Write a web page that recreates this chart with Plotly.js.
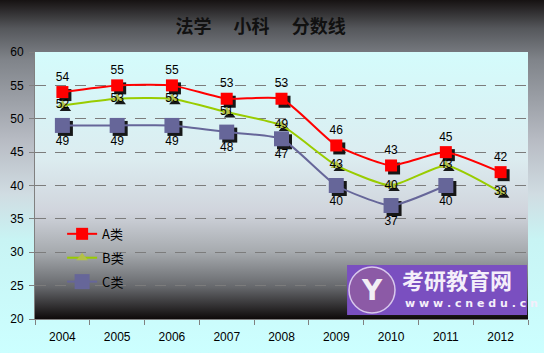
<!DOCTYPE html>
<html><head><meta charset="utf-8">
<script src="https://cdn.plot.ly/plotly-3.0.1.min.js"></script>
<style>html,body{margin:0;padding:0;}#chart{width:544px;height:353px;}</style>
</head><body><div id="chart"></div>
<script>
const years = ['2004','2005','2006','2007','2008','2009','2010','2011','2012'];
const seriesA = [54,55,55,53,53,46,43,45,42];
const seriesB = [52,53,53,51,49,43,40,43,39];
const seriesC = [49,49,49,48,47,40,37,40,null];
const names = ['A类','B类','C类'];
const yTicks = [20,25,30,35,40,45,50,55,60];

const W=544,H=353,L=35,R=16,T=52,B=34;
// background
const cv=document.createElement('canvas');cv.width=W;cv.height=H;
const cx=cv.getContext('2d');
let g=cx.createLinearGradient(0,0,0,H);
g.addColorStop(0,'#161212');g.addColorStop(0.08,'#55575b');g.addColorStop(0.17,'#80848a');
g.addColorStop(0.4,'#b8bcc4');g.addColorStop(0.55,'#d0dce2');g.addColorStop(0.68,'#c8f4f4');g.addColorStop(1,'#ccffff');
cx.fillStyle=g;cx.fillRect(0,0,W,H);
let g2=cx.createLinearGradient(0,T,0,H-B);
g2.addColorStop(0,'#d4fcfc');g2.addColorStop(0.4,'#dcecf0');g2.addColorStop(0.6,'#d0d4dc');
g2.addColorStop(0.75,'#a6aaae');g2.addColorStop(0.88,'#66686c');g2.addColorStop(1,'#0e0a0a');
cx.fillStyle=g2;cx.fillRect(L,T,W-L-R,H-T-B);
document.getElementById('chart').style.background='url('+cv.toDataURL()+')';

const sh = 'rgba(12,12,12,0.95)';
const shadow=(y,sym,size)=>({x:years,y:y,xaxis:'x',yaxis:'y',mode:'markers',showlegend:false,hoverinfo:'skip',
  marker:{symbol:sym,size:size,color:sh}});
const traces=[
  shadow(seriesA,'square',12),shadow(seriesB,'triangle-up',10),shadow(seriesC,'square',15),
  {x:years,y:seriesA,xaxis:'x2',yaxis:'y2',name:names[0],legendgroup:'a',mode:'lines+markers+text',text:seriesA.map(String),textposition:'top center',
   line:{color:'#ff0000',width:2,shape:'spline',smoothing:0.5},marker:{symbol:'square',size:12,color:'#ff0000'},textfont:{size:12,color:'#000'}},
  {x:years,y:seriesB,xaxis:'x2',yaxis:'y2',name:names[1],legendgroup:'b',mode:'lines+markers+text',text:seriesB.map(String),textposition:'middle center',
   line:{color:'#99cc00',width:2,shape:'spline',smoothing:0.5},marker:{symbol:'triangle-up',size:10,color:'#b4c048'},textfont:{size:12,color:'#000'}},
  {x:years,y:seriesC,xaxis:'x2',yaxis:'y2',name:names[2],legendgroup:'c',mode:'lines+markers+text',text:seriesC.map(v=>v==null?'':String(v)),textposition:'bottom center',
   line:{color:'#666699',width:2,shape:'spline',smoothing:0.5},marker:{symbol:'square',size:15,color:'#666699'},textfont:{size:12,color:'#000'}}
];
const fnt={family:'Liberation Sans, Arial, sans-serif',size:12,color:'#000'};
const layout={
  width:W,height:H,margin:{l:L,r:R,t:T,b:B,pad:0},
  paper_bgcolor:'rgba(0,0,0,0)',plot_bgcolor:'rgba(0,0,0,0)',
  font:fnt,
  title:{text:'<b>法学　 小科　 分数线</b>',xref:'container',x:0.479,xanchor:'center',y:0.925,yanchor:'middle',font:{family:'Noto Sans CJK SC',size:18,color:'#111'}},
  xaxis:{type:'category',categoryorder:'array',categoryarray:years,range:[-0.555,8.445],visible:false},
  yaxis:{range:[20.45,60.45],visible:false,showgrid:false},
  xaxis2:{type:'category',categoryorder:'array',categoryarray:years,range:[-0.5,8.5],overlaying:'x',tickson:'boundaries',ticks:'outside',ticklen:5,tickcolor:'#808080',
    showline:true,linecolor:'#808080',linewidth:1,showgrid:false,zeroline:false,tickfont:fnt,ticklabelstandoff:7,side:'bottom'},
  yaxis2:{range:[20,60],overlaying:'y',side:'left',tickvals:yTicks,ticks:'outside',ticklen:5,tickcolor:'#808080',showline:true,linecolor:'#808080',
    showgrid:true,gridcolor:'#7c7c7c',griddash:'11px,9px',gridwidth:1,zeroline:false,tickfont:fnt,ticklabelstandoff:3},
  showlegend:true,
  legend:{x:0.055,y:0.375,xanchor:'left',yanchor:'top',bgcolor:'rgba(0,0,0,0)',traceorder:'grouped',tracegroupgap:4,
    font:{family:'Noto Sans CJK SC',size:13,color:'#000'}},
  shapes:[
    {type:'rect',xref:'paper',yref:'paper',x0:0.633,x1:0.998,y0:0.015,y1:0.202,fillcolor:'#7a4fc0',line:{width:0},layer:'above'},
    {type:'circle',xref:'paper',yref:'paper',x0:(349-L)/493,x1:(395-L)/493,y0:(319-313)/267,y1:(319-267)/267,fillcolor:'#8c5aa6',line:{color:'#d8c8ec',width:1.5},layer:'above'}
  ],
  annotations:[
    {xref:'paper',yref:'paper',x:(400-L)/493,y:(319-279)/267,xanchor:'left',yanchor:'middle',text:'<b>考研教育网</b>',showarrow:false,
      font:{family:'Noto Sans CJK SC',size:22,color:'#f4eefa'}},
    {xref:'paper',yref:'paper',x:(403-L)/493,y:(319-303)/267,xanchor:'left',yanchor:'middle',text:'<b>w w w . c n e d u . c n</b>',showarrow:false,
      font:{family:'DejaVu Sans',size:11,color:'#f4eefa'}},
    {xref:'paper',yref:'paper',x:(372-L)/493,y:(319-290)/267,xanchor:'center',yanchor:'middle',text:'<b>Y</b>',showarrow:false,
      font:{family:'DejaVu Sans',size:28,color:'#f2eef4'}}
  ]
};
Plotly.newPlot('chart',traces,layout,{displayModeBar:false,staticPlot:true});
</script></body></html>
